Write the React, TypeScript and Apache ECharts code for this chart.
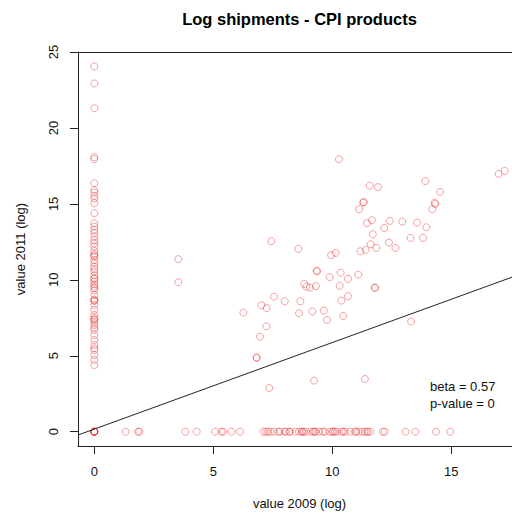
import React, { useEffect, useRef } from "react";
import * as echarts from "echarts";

// Points with value 2009 = 0 (left column): value 2011
const zeroColumnY = [
  24.05, 22.93, 21.3, 18.08, 17.95, 16.36, 15.92, 15.75, 15.53, 15.35, 15.05, 14.39,
  13.73, 13.5, 13.29, 13.1, 12.85, 12.6, 12.4, 12.19, 11.9, 11.7, 11.53, 11.3, 11.1,
  10.87, 10.7, 10.54, 10.3, 10.05, 9.88, 9.7, 9.55, 9.3, 9.0, 8.7, 8.6, 8.35, 8.02,
  7.69, 7.5, 7.36, 7.2, 7.03, 6.7, 6.37, 6.04, 5.71, 5.5, 5.38, 5.05, 4.72, 4.39,
  11.6, 10.1, 9.45, 8.65, 7.4, 6.85,
  0, 0, 0, 0, 0, 0,
];

// Points with value 2011 = 0 (bottom row): value 2009
const zeroRowX = [
  1.32, 1.84, 1.89, 3.82, 4.3, 5.08, 5.34, 5.42, 5.76, 6.12,
  7.1, 7.21, 7.3, 7.4, 7.55, 7.73, 7.8, 8.0, 8.05, 8.2, 8.22, 8.45, 8.6, 8.71, 8.75,
  8.8, 8.9, 9.1, 9.2, 9.25, 9.3, 9.45, 9.6, 9.69, 9.9, 10.0, 10.05, 10.11, 10.2,
  10.4, 10.46, 10.55, 10.75, 10.95, 11.0, 11.1, 11.25, 11.37, 11.45, 11.5, 11.6,
  12.12, 12.21, 13.08, 13.49, 14.36, 14.95,
];

// Remaining cloud of points
const cloudX = [
  10.28, 11.57, 11.92, 13.91, 14.53, 16.99, 17.24, 11.3, 11.32, 11.13, 14.3, 14.33,
  14.2, 11.46, 11.67, 12.42, 12.18, 12.94, 13.56, 13.95, 11.7, 13.28, 13.81, 12.38,
  12.65, 11.61, 11.85, 11.18, 11.4, 7.44, 8.57, 9.95, 10.14, 9.34, 9.36, 9.89, 10.35,
  10.66, 11.09, 8.82, 8.91, 9.06, 9.31, 10.31, 11.78, 11.8, 7.55, 8.0, 7.02, 7.24,
  6.26, 8.66, 10.38, 10.66, 8.6, 9.16, 9.64, 9.78, 10.46, 7.23, 6.96, 13.31,
  6.81, 6.83, 7.35, 9.23, 11.37, 3.53, 3.53,
];
const cloudY = [
  17.94, 16.2, 16.1, 16.5, 15.79, 16.98, 17.17, 15.09, 15.12, 14.65, 15.07, 15.0,
  14.65, 13.73, 13.92, 13.88, 13.42, 13.83, 13.77, 13.46, 13.0, 12.76, 12.76, 12.45,
  12.1, 12.34, 12.1, 11.88, 11.97, 12.54, 12.04, 11.62, 11.77, 10.59, 10.56, 10.17, 10.47,
  10.06, 10.34, 9.73, 9.55, 9.49, 9.58, 9.6, 9.49, 9.47, 8.89, 8.59, 8.33, 8.13,
  7.84, 8.59, 8.63, 8.92, 7.8, 7.91, 7.97, 7.36, 7.62, 6.94, 6.26, 7.25,
  4.88, 4.86, 2.88, 3.36, 3.47, 11.36, 9.84,
];

const xTicks = [0, 5, 10, 15];
const yTicks = [0, 5, 10, 15, 20, 25];

const BETA = 0.57;
const INTERCEPT = 0.17;
const X_MIN = -0.685;
const X_MAX = 17.55;
const Y_MIN = -0.942;
const Y_MAX = 25;

const FONT = "'Liberation Sans', Arial, Helvetica, sans-serif";
const AXIS_COLOR = "#222";

export default function App() {
  const ref = useRef<HTMLDivElement>(null);
  useEffect(() => {
    if (!ref.current) return;
    const chart = echarts.init(ref.current, null, { renderer: "svg" });
    const points: number[][] = [];
    zeroColumnY.forEach((y) => points.push([0, y]));
    zeroRowX.forEach((x) => points.push([x, 0]));
    cloudX.forEach((x, i) => points.push([x, cloudY[i]]));

    chart.setOption({
      animation: false,
      backgroundColor: "#fff",
      grid: {
        left: 78,
        top: 52,
        width: 434,
        height: 394,
        show: false,
        containLabel: false,
      },
      xAxis: [
        {
          type: "value",
          position: "bottom",
          min: X_MIN,
          max: X_MAX,
          splitLine: { show: false },
          axisLine: { show: true, onZero: false, lineStyle: { color: AXIS_COLOR, width: 1 } },
          axisTick: {
            show: true,
            customValues: xTicks,
            length: 8,
            lineStyle: { color: AXIS_COLOR },
          },
          axisLabel: {
            customValues: xTicks,
            margin: 19,
            fontSize: 13,
            color: "#111",
            fontFamily: FONT,
          },
        },
        {
          type: "value",
          position: "top",
          min: X_MIN,
          max: X_MAX,
          splitLine: { show: false },
          axisLine: { show: true, onZero: false, lineStyle: { color: AXIS_COLOR, width: 1 } },
          axisTick: { show: false },
          axisLabel: { show: false },
        },
      ],
      yAxis: {
        type: "value",
        min: Y_MIN,
        max: Y_MAX,
        splitLine: { show: false },
        axisLine: { show: true, onZero: false, lineStyle: { color: AXIS_COLOR, width: 1 } },
        axisTick: {
          show: true,
          customValues: yTicks,
          length: 8,
          lineStyle: { color: AXIS_COLOR },
        },
        axisLabel: {
          customValues: yTicks,
          rotate: 90,
          margin: 18,
          fontSize: 13,
          color: "#111",
          fontFamily: FONT,
        },
      },
      series: [
        {
          type: "scatter",
          data: points,
          symbol: "circle",
          symbolSize: 7,
          itemStyle: {
            color: "transparent",
            borderColor: "rgba(235,20,20,0.5)",
            borderWidth: 1,
          },
          silent: true,
        },
        {
          type: "line",
          data: [
            [X_MIN, INTERCEPT + BETA * X_MIN],
            [X_MAX, INTERCEPT + BETA * X_MAX],
          ],
          symbol: "none",
          lineStyle: { color: "#222", width: 1 },
          clip: true,
          silent: true,
        },
      ],
      graphic: [
        {
          type: "text",
          x: 299.5,
          y: 19,
          style: {
            text: "Log shipments - CPI products",
            fontSize: 16.5,
            fontWeight: "bold",
            fontFamily: FONT,
            fill: "#000",
            textAlign: "center",
            textVerticalAlign: "middle",
          },
        },
        {
          type: "text",
          x: 299.5,
          y: 503,
          style: {
            text: "value 2009 (log)",
            fontSize: 13,
            fontFamily: FONT,
            fill: "#111",
            textAlign: "center",
            textVerticalAlign: "middle",
          },
        },
        {
          type: "text",
          x: 20,
          y: 249,
          rotation: Math.PI / 2,
          style: {
            text: "value 2011 (log)",
            fontSize: 13,
            fontFamily: FONT,
            fill: "#111",
            textAlign: "center",
            textVerticalAlign: "middle",
          },
        },
        {
          type: "text",
          x: 430,
          y: 386,
          style: {
            text: "beta = 0.57",
            fontSize: 13,
            fontFamily: FONT,
            fill: "#111",
            textAlign: "left",
            textVerticalAlign: "middle",
          },
        },
        {
          type: "text",
          x: 430,
          y: 403,
          style: {
            text: "p-value = 0",
            fontSize: 13,
            fontFamily: FONT,
            fill: "#111",
            textAlign: "left",
            textVerticalAlign: "middle",
          },
        },
      ],
    });
    return () => chart.dispose();
  }, []);
  return (
    <div
      ref={ref}
      style={{ position: "absolute", left: 0, top: 0, width: 512, height: 514 }}
    />
  );
}
